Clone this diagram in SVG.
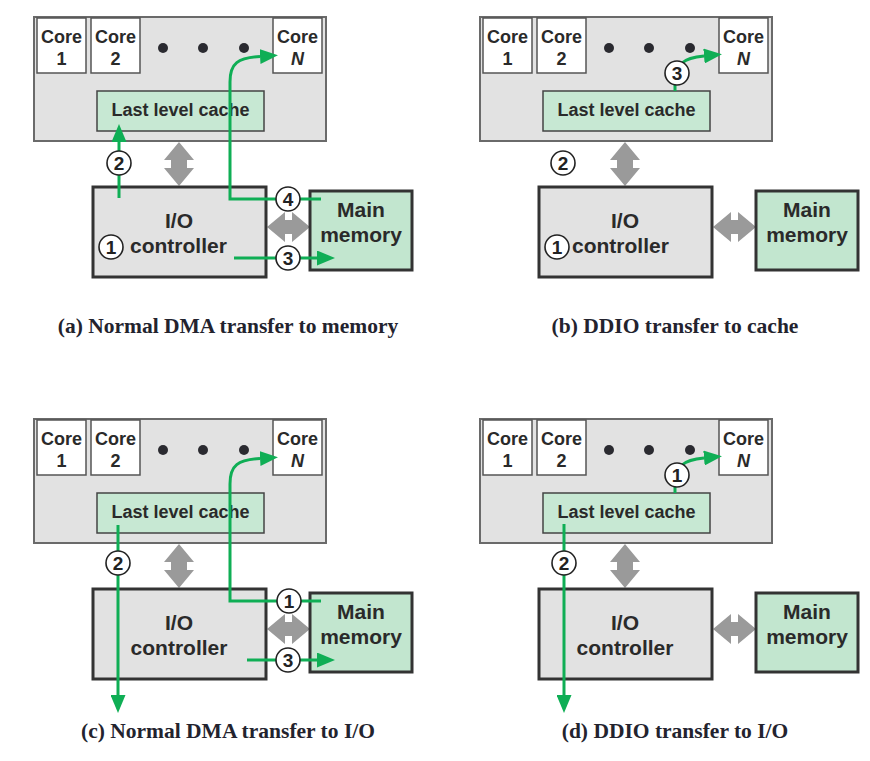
<svg xmlns="http://www.w3.org/2000/svg" width="870" height="761" viewBox="0 0 870 761">
<style>
.bg{fill:#ffffff}
.chip{fill:#e2e2e2;stroke:#6a6a6a;stroke-width:2}
.core{fill:#ffffff;stroke:#555;stroke-width:1.5}
.llc{fill:#c7e8d3;stroke:#444;stroke-width:1.5}
.io{fill:#e2e2e2;stroke:#333;stroke-width:3}
.mem{fill:#c2e6cf;stroke:#333;stroke-width:3}
.t{font-family:"Liberation Sans",Arial,sans-serif;font-weight:bold;fill:#2a2a2a}
.ct{font-size:18px;text-anchor:middle}
.bt{font-size:21px;text-anchor:middle}
.dot{fill:#2a2a30}
.ga{fill:#9a9a9a}
.gl{fill:none;stroke:#0fae55;stroke-width:3}
.num{fill:#ffffff;stroke:#222;stroke-width:1.6}
.nt{font-family:"Liberation Sans",Arial,sans-serif;font-weight:bold;font-size:19px;text-anchor:middle;fill:#222}
.cap{font-family:"Liberation Serif","Times New Roman",serif;font-weight:bold;font-size:21.5px;text-anchor:middle;fill:#23232e}
</style>
<defs>
<marker id="ah" viewBox="0 0 18 15" refX="0" refY="7.5" markerWidth="18" markerHeight="15" markerUnits="userSpaceOnUse" orient="auto">
<path d="M0,0 L18,7.5 L0,15 z" fill="#0fae55"/>
</marker>
<g id="chipbase">
<rect class="chip" x="34" y="17" width="292" height="124"/>
<rect class="core" x="37" y="18" width="49" height="55"/>
<rect class="core" x="91" y="18" width="49" height="55"/>
<rect class="core" x="273" y="18" width="49" height="55"/>
<text class="t ct" x="61.5" y="43">Core</text>
<text class="t ct" x="61.5" y="65">1</text>
<text class="t ct" x="115.5" y="43">Core</text>
<text class="t ct" x="115.5" y="65">2</text>
<text class="t ct" x="297.5" y="43">Core</text>
<text class="t ct" x="297.5" y="65" font-style="italic">N</text>
<circle class="dot" cx="163" cy="48" r="5"/>
<circle class="dot" cx="203" cy="48" r="5"/>
<circle class="dot" cx="244" cy="48" r="5"/>
<rect class="llc" x="97" y="91" width="167" height="40"/>
<text class="t ct" x="180.5" y="116">Last level cache</text>
</g>
<g id="lowerbase">
<polygon class="ga" points="179,142 194,160 187,160 187,168 194,168 179,186 164,168 171,168 171,160 164,160"/>
<polygon class="ga" points="267,227 285,212 285,220 292,220 292,212 310,227 292,242 292,234 285,234 285,242"/>
<rect class="io" x="93" y="187" width="173" height="90"/>
<rect class="mem" x="310" y="191" width="102" height="79"/>
<text class="t bt" x="179" y="228">I/O</text>
<text class="t bt" x="361" y="217">Main</text>
<text class="t bt" x="361" y="242" font-size="22px">memory</text>
</g>
</defs>
<rect class="bg" x="0" y="0" width="870" height="761"/>

<!-- Panel (a) -->
<g id="panel-a">
<g id="a-chip"><use href="#chipbase"/></g>
<g id="a-io-mem"><use href="#lowerbase"/>
<text class="t" x="130" y="253" font-size="21px">controller</text></g>
<g id="a-connectors">
<path class="gl" d="M119,198 V142" marker-end="url(#ah)"/>
<path class="gl" d="M321,199 H230 V82 C230,63 238,58 260,56.5" marker-end="url(#ah)"/>
<path class="gl" d="M234,258 H317" marker-end="url(#ah)"/>
</g>
<g id="a-num1"><circle class="num" cx="111" cy="247" r="12"/><text class="nt" x="111" y="254">1</text></g>
<g id="a-num2"><circle class="num" cx="119" cy="163" r="12"/><text class="nt" x="119" y="170">2</text></g>
<g id="a-num3"><circle class="num" cx="288" cy="258" r="12"/><text class="nt" x="288" y="265">3</text></g>
<g id="a-num4"><circle class="num" cx="288" cy="199" r="12"/><text class="nt" x="288" y="206">4</text></g>
<text class="cap" x="228" y="333">(a) Normal DMA transfer to memory</text>
</g>

<!-- Panel (b) -->
<g id="panel-b">
<g id="b-chip"><use href="#chipbase" x="446" y="0"/></g>
<g id="b-io-mem"><use href="#lowerbase" x="446" y="0"/>
<text class="t" x="572" y="253" font-size="21px">controller</text></g>
<g id="b-connectors">
<path class="gl" d="M675,91 V84"/>
<path class="gl" d="M682,63 Q688,57.5 704,56" marker-end="url(#ah)"/>
</g>
<g id="b-num1"><circle class="num" cx="557" cy="247" r="12"/><text class="nt" x="557" y="254">1</text></g>
<g id="b-num2"><circle class="num" cx="563" cy="163" r="12"/><text class="nt" x="563" y="170">2</text></g>
<g id="b-num3"><circle class="num" cx="677" cy="73" r="12"/><text class="nt" x="677" y="80">3</text></g>
<text class="cap" x="675" y="333">(b) DDIO transfer to cache</text>
</g>

<!-- Panel (c) -->
<g id="panel-c">
<g id="c-chip"><use href="#chipbase" x="0" y="402"/></g>
<g id="c-io-mem"><use href="#lowerbase" x="0" y="402"/>
<text class="t bt" x="179" y="655">controller</text></g>
<g id="c-connectors">
<path class="gl" d="M118,525 V695" marker-end="url(#ah)"/>
<path class="gl" d="M321,601 H230 V484 C230,465 238,460 260,458.5" marker-end="url(#ah)"/>
<path class="gl" d="M247,660 H317" marker-end="url(#ah)"/>
</g>
<g id="c-num2"><circle class="num" cx="118" cy="563" r="12"/><text class="nt" x="118" y="570">2</text></g>
<g id="c-num1"><circle class="num" cx="289" cy="601" r="12"/><text class="nt" x="289" y="608">1</text></g>
<g id="c-num3"><circle class="num" cx="288" cy="660" r="12"/><text class="nt" x="288" y="667">3</text></g>
<text class="cap" x="228" y="738">(c) Normal DMA transfer to I/O</text>
</g>

<!-- Panel (d) -->
<g id="panel-d">
<g id="d-chip"><use href="#chipbase" x="446" y="402"/></g>
<g id="d-io-mem"><use href="#lowerbase" x="446" y="402"/>
<text class="t bt" x="625" y="655">controller</text></g>
<g id="d-connectors">
<path class="gl" d="M564,524 V695" marker-end="url(#ah)"/>
<path class="gl" d="M675,493 V486"/>
<path class="gl" d="M682,465 Q688,459.5 704,458" marker-end="url(#ah)"/>
</g>
<g id="d-num2"><circle class="num" cx="564" cy="563" r="12"/><text class="nt" x="564" y="570">2</text></g>
<g id="d-num1"><circle class="num" cx="677" cy="475" r="12"/><text class="nt" x="677" y="482">1</text></g>
<text class="cap" x="675" y="738">(d) DDIO transfer to I/O</text>
</g>
</svg>
